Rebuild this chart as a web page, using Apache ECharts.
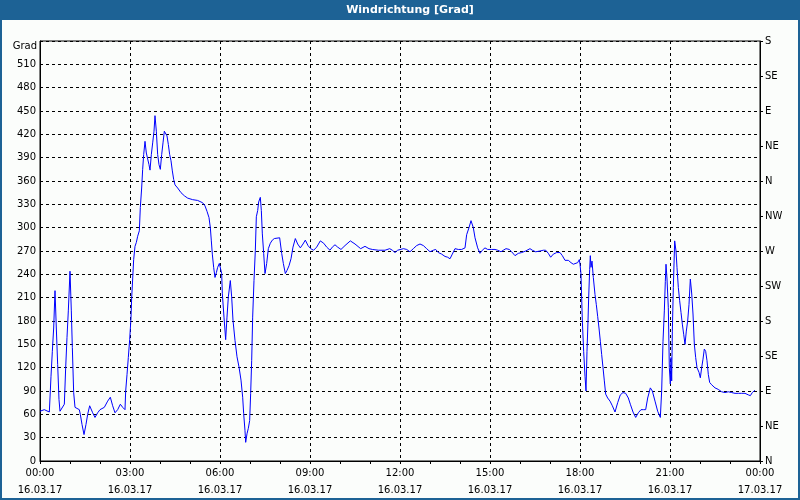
<!DOCTYPE html>
<html>
<head>
<meta charset="utf-8">
<script src="https://cdn.jsdelivr.net/npm/echarts@6/dist/echarts.min.js"></script>
<style>
html,body{margin:0;padding:0;background:#fbfdfb;}
#chart{width:800px;height:500px;}
</style>
</head>
<body>
<div id="chart"></div>
<script>
// Time of day in hours (16.03.17), wind direction in degrees
const hoursA = [0,0.144,0.311,0.333,0.367,0.411,0.456,0.5,0.544,0.589,0.633,0.667,0.811,0.856,0.9,0.944,1.0,1.044,1.078,1.122,1.167,1.311,1.344,1.4,1.467,1.533,1.589,1.656,1.756,1.833,1.922,2.0,2.144,2.256,2.344,2.422,2.5,2.589,2.678,2.756,2.833,2.856,2.9,2.944,2.989,3.033,3.056,3.089,3.122,3.167,3.211,3.256,3.311,3.344,3.389,3.422,3.456,3.5,3.544,3.589,3.633,3.667,3.711,3.756,3.8,3.833,3.878,3.922,3.967,4.011,4.056,4.1,4.144,4.189,4.233,4.278,4.322,4.367,4.411,4.456,4.5,4.589,4.7,4.811,4.922,5.089,5.256,5.422,5.5,5.567,5.633,5.678,5.711,5.744,5.789,5.833,5.878,5.922,5.978];
const degA = [64,66,63,64,109,141,171,219,171,124,79,64,73,120,159,193,244,193,146,88,69,66,60,47,34,47,60,71,62,56,62,66,69,77,82,71,62,66,73,69,66,90,111,133,156,184,210,234,259,276,281,289,296,326,351,375,394,411,396,396,381,374,394,409,424,444,424,394,381,375,394,409,424,425,418,407,394,386,373,362,355,351,345,341,338,336,335,332,328,321,313,300,283,266,249,236,242,249,254];

const hoursB = [6.056,6.078,6.133,6.189,6.233,6.278,6.344,6.389,6.433,6.5,6.567,6.633,6.7,6.756,6.789,6.833,6.856,6.9,6.944,6.989,7.022,7.056,7.089,7.133,7.178,7.211,7.256,7.289,7.344,7.378,7.411,7.456,7.5,7.556,7.611,7.678,7.744,7.811,7.989,8.056,8.111,8.178,8.233,8.3,8.367,8.433,8.511,8.589,8.678,8.767,8.844,8.933,9.022,9.122,9.222,9.344,9.456,9.556,9.667,9.744,9.833,9.922,10.033,10.167,10.344,10.5,10.689,10.833,10.967,11.078,11.278,11.5,11.656,11.744,11.833,11.922];
const degB = [241,215,185,156,185,211,232,211,181,155,134,121,104,82,61,39,24,35,42,52,87,129,185,232,271,314,322,333,339,322,292,267,241,254,273,280,284,286,287,267,254,241,245,251,260,275,286,279,274,279,284,277,273,271,275,283,280,275,271,275,278,275,272,277,283,279,273,276,273,272,271,271,273,271,268,271];

const hoursC = [12.111,12.222,12.333,12.444,12.556,12.667,12.778,12.889,13.0,13.111,13.189,13.278,13.389,13.5,13.589,13.667,13.744,13.833,13.944,14.056,14.167,14.222,14.3,14.367,14.444,14.5,14.589,14.667,14.744,14.833,14.922,15.056,15.167,15.256,15.367,15.444,15.533,15.644,15.722,15.833,15.944,16.056,16.189,16.333,16.411,16.522,16.667,16.778,16.856,16.944,17.022,17.111,17.222,17.333,17.411,17.5,17.611,17.7,17.778,17.844,17.922,17.978];
const degC = [273,272,269,273,277,279,277,273,269,271,272,268,266,263,262,260,266,273,272,272,274,291,300,309,300,287,274,267,271,274,272,272,272,271,269,271,273,272,269,264,267,268,270,273,271,269,270,271,271,267,262,266,268,268,264,258,258,255,253,251,255,259];

const hoursD = [18.0,18.033,18.078,18.122,18.167,18.2,18.233,18.267,18.289,18.322,18.344,18.367,18.4,18.444,18.5,18.544,18.589,18.633,18.678,18.722,18.767,18.811,18.856,18.922,19.0,19.078,19.167,19.256,19.344,19.433,19.522,19.611,19.678,19.767,19.856,19.944,20.033,20.122,20.189,20.256,20.344,20.411,20.5,20.589,20.678,20.722,20.767,20.811,20.844,20.867,20.9,20.944,20.978,21.011,21.033,21.056,21.078,21.111,21.156,21.2,21.233,21.278,21.322,21.367,21.411,21.456,21.5,21.544,21.589,21.633,21.678,21.722,21.767,21.811,21.856,21.9,21.967,22.011,22.056,22.1,22.144,22.189,22.233,22.278,22.322,22.389,22.5,22.611,22.722,22.833,22.944,23.056,23.167,23.278,23.389,23.5,23.611,23.678,23.744,23.833];
const degD = [253,240,180,141,109,90,141,180,210,246,264,249,257,236,214,201,186,171,154,137,120,103,86,81,77,71,63,75,85,88,87,81,73,63,56,62,66,66,66,81,94,90,77,64,56,90,154,193,231,253,234,197,120,99,133,103,167,223,283,270,249,223,206,191,176,163,150,167,180,201,234,216,189,150,133,120,114,107,120,131,144,141,129,111,101,98,94,92,89,88,89,88,87,87,87,87,85,84,88,91];

const compassLabels = ['N','NE','E','SE','S','SW','W','NW','N','NE','E','SE','S'];
const dateLabels = ['16.03.17','17.03.17'];
const titleText = 'Windrichtung [Grad]';
const unitText = 'Grad';

const hours = hoursA.concat(hoursB, hoursC, hoursD);
const degs = degA.concat(degB, degC, degD);
const seriesData = hours.map((h, i) => [h, degs[i]]);

const FONT = 'DejaVu Sans';
const chart = echarts.init(document.getElementById('chart'), null, {renderer: 'canvas'});
const pad2 = n => (n < 10 ? '0' : '') + n;

chart.setOption({
  backgroundColor: '#fbfdfb',
  animation: false,
  grid: {left: 40, right: 40, top: 41, bottom: 39, show: true, borderColor: '#000', borderWidth: 1, backgroundColor: 'transparent'},
  graphic: [
    {type: 'rect', left: 0, top: 0, shape: {width: 800, height: 20}, style: {fill: '#1d6295'}, z: 10},
    {type: 'text', x: 410, y: 10, style: {text: titleText, fill: '#fff', font: 'bold 11px "DejaVu Sans"', align: 'center', verticalAlign: 'middle'}, z: 11},
    {type: 'rect', shape: {x: 1, y: 1, width: 798, height: 498}, style: {fill: 'none', stroke: '#1d6295', lineWidth: 2}, z: 12},
    {type: 'text', x: 37, y: 46, style: {text: unitText, fill: '#000', font: '10px "DejaVu Sans"', align: 'right', verticalAlign: 'middle'}, z: 11}
  ],
  xAxis: {
    type: 'value', min: 0, max: 24, interval: 3,
    axisLine: {show: true, onZero: false, lineStyle: {color: '#000', width: 1}},
    axisTick: {show: true, length: 3, lineStyle: {color: '#000'}},
    minorTick: {show: true, splitNumber: 3, length: 3, lineStyle: {color: '#000'}},
    splitLine: {show: true, lineStyle: {color: '#000', width: 1, type: [3, 3]}},
    axisLabel: {
      color: '#000', fontFamily: FONT, fontSize: 10, lineHeight: 17, margin: 4,
      showMinLabel: true, showMaxLabel: true,
      formatter: v => pad2(v % 24) + ':00\n' + (v >= 24 ? dateLabels[1] : dateLabels[0])
    }
  },
  yAxis: [
    {
      type: 'value', min: 0, max: 540, interval: 30, position: 'left',
      axisLine: {show: true, lineStyle: {color: '#000', width: 1}},
      axisTick: {show: false},
      splitLine: {show: true, lineStyle: {color: '#000', width: 1, type: [3, 3]}},
      axisLabel: {color: '#000', fontFamily: FONT, fontSize: 10, margin: 4, formatter: v => (v >= 540 ? '' : String(v))}
    },
    {
      type: 'value', min: 0, max: 540, interval: 45, position: 'right',
      axisLine: {show: true, lineStyle: {color: '#000', width: 1}},
      axisTick: {show: true, length: 3, lineStyle: {color: '#000'}},
      splitLine: {show: false},
      axisLabel: {color: '#000', fontFamily: FONT, fontSize: 10, margin: 5, formatter: v => compassLabels[Math.round(v / 45)]}
    }
  ],
  series: [{
    type: 'line', data: seriesData, yAxisIndex: 0, showSymbol: false, symbol: 'none',
    lineStyle: {color: '#0000ff', width: 1}, smooth: false, silent: true
  }]
});
</script>
</body>
</html>
